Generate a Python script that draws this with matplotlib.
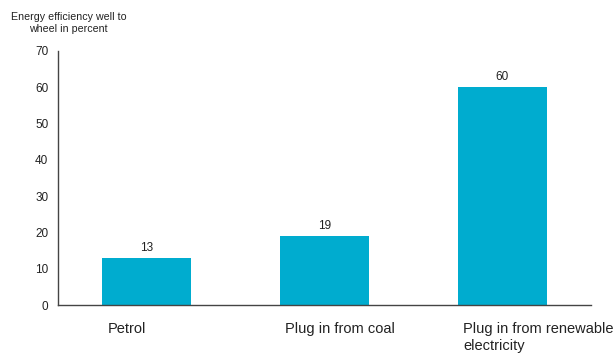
import matplotlib
matplotlib.use("Agg")
import matplotlib.pyplot as plt
import numpy as np

plt.rcParams['font.family'] = ['Liberation Sans', 'DejaVu Sans']

categories = ["Petrol", "Plug in from coal", "Plug in from renewable\nelectricity"]
values = [13, 19, 60]
y_ticks = [0, 10, 20, 30, 40, 50, 60, 70]
y_title = "Energy efficiency well to\nwheel in percent"

BAR_COLOR = "#00ACCF"
AXIS_COLOR = "#444444"

fig = plt.figure(figsize=(6.14, 3.54), dpi=100)
ax = fig.add_axes([0.0945, 0.138, 0.868, 0.718])

x = np.arange(len(categories))
bars = ax.bar(x, values, width=0.5, color=BAR_COLOR, zorder=2)

for b, v in zip(bars, values):
    ax.annotate(str(v), (b.get_x() + b.get_width() / 2, v),
                xytext=(0, 3), textcoords="offset points",
                ha="center", va="bottom", fontsize=8.5, color="#222222")

ax.set_xlim(-0.5, 2.5)
ax.set_ylim(0, 70)
ax.set_yticks(y_ticks)
ax.tick_params(axis="y", length=0, pad=7, labelsize=8.5, labelcolor="#222222")

# category labels left-aligned near the bar's left edge
ax.set_xticks(x - 0.22)
ax.set_xticklabels(categories, ha="left", va="top", fontsize=10.5, color="#222222",
                   linespacing=1.3)
ax.tick_params(axis="x", length=0, pad=12)

for s in ["top", "right"]:
    ax.spines[s].set_visible(False)
for s in ["left", "bottom"]:
    ax.spines[s].set_color(AXIS_COLOR)
    ax.spines[s].set_linewidth(1.0)

fig.text(0.112, 0.965, y_title, ha="center", va="top", fontsize=7.7,
         color="#222222", linespacing=1.15)

fig.savefig("out.png", dpi=100)
